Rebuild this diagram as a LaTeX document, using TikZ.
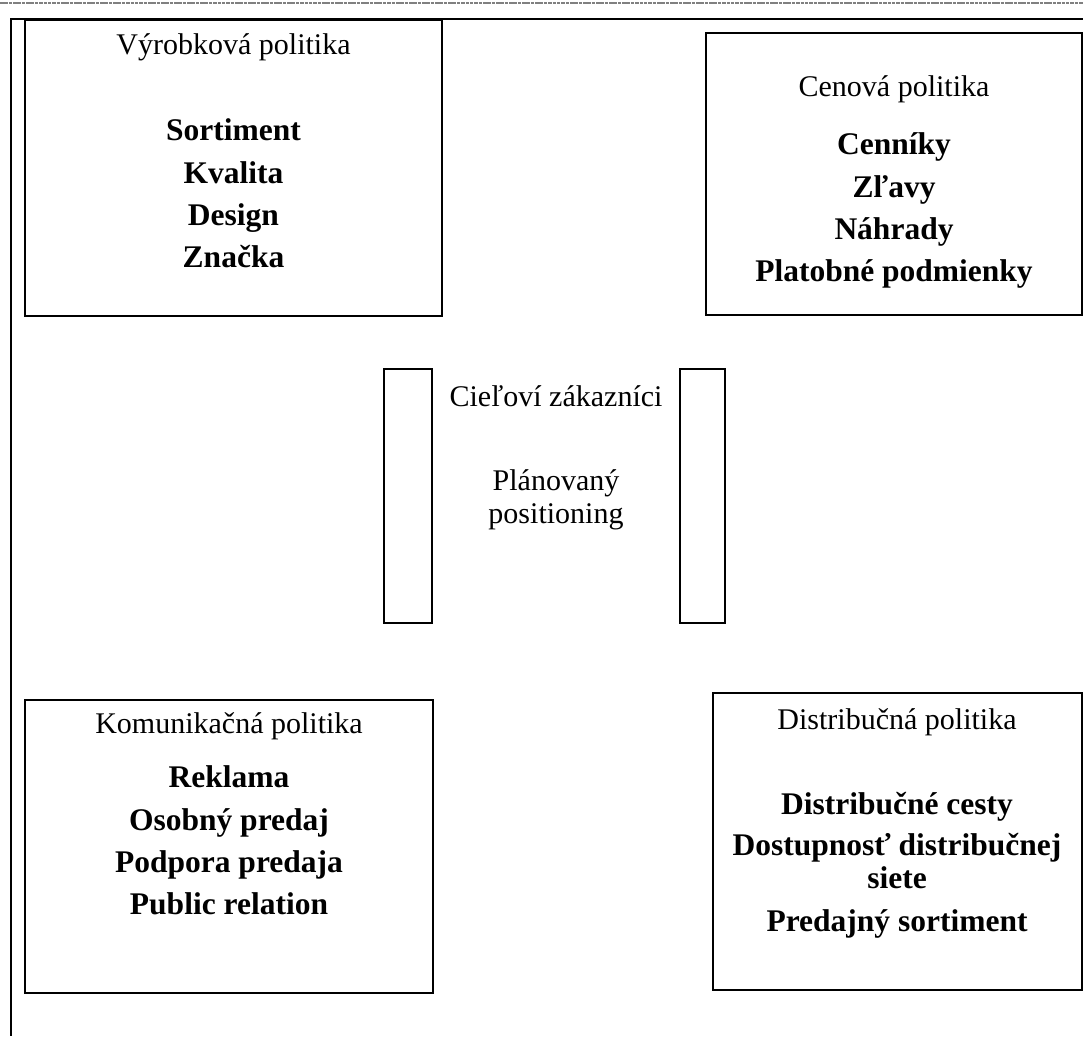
\documentclass[tikz,border=0pt]{standalone}
\usepackage{fontspec}
\setmainfont{Liberation Serif}
\usetikzlibrary{positioning}

\begin{document}
\begin{tikzpicture}[
    x=0.3333pt, y=-0.3333pt, % pixel grid, y pointing down
    frame/.style={line width=0.67pt}, % Style for the policy boxes
    rule/.style={line width=0.45pt}, % Style for the page rules
    title/.style={font=\fontsize{10}{11}\selectfont, text height=7pt, text depth=2pt, inner sep=0pt}, % Style for box headings
    item/.style={font=\fontsize{10.5}{11.3}\selectfont\bfseries, text height=7.5pt, text depth=2.2pt, inner sep=0pt, align=center}, % Style for bold entries
    node distance=3.97pt
]
    \useasboundingbox (0,0) rectangle (1083,1038);

    % --- Page rules ---
    \draw[gray, line width=0.5pt, dash pattern=on 1.2pt off 0.25pt] (0,3) -- (1083,3);
    \coordinate (corner) at (11,19);
    \draw[rule] (1083,19) -- (corner) -- (11,1036);

    % --- Top left: Výrobková politika ---
    \draw[frame] (25,20) rectangle (442,316);
    \node[title] (vyrT) at (233.5,47) {Výrobková politika};
    \node[item] (vyr1) at (233.5,133) {Sortiment};
    \node[item, below=of vyr1] (vyr2) {Kvalita};
    \node[item, below=of vyr2] (vyr3) {Design};
    \node[item, below=of vyr3] (vyr4) {Značka};

    % --- Top right: Cenová politika ---
    \draw[frame] (706,33) rectangle (1082,315);
    \node[title] (cenT) at (894,89) {Cenová politika};
    \node[item] (cen1) at (894,147) {Cenníky};
    \node[item, below=of cen1] (cen2) {Zľavy};
    \node[item, below=of cen2] (cen3) {Náhrady};
    \node[item, below=of cen3] (cen4) {Platobné podmienky};

    % --- Centre: target customers ---
    \draw[frame] (384,369) rectangle (432,623);
    \draw[frame] (680,369) rectangle (725,623);
    \node[title] (cielT) at (556,399) {Cieľoví zákazníci};
    \node[title, align=center, text height=, text depth=] (plan) at (556,500) {Plánovaný\\positioning};

    % --- Bottom left: Komunikačná politika ---
    \draw[frame] (25,700) rectangle (433,993);
    \node[title] (komT) at (229,726) {Komunikačná politika};
    \node[item] (kom1) at (229,780) {Reklama};
    \node[item, below=of kom1] (kom2) {Osobný predaj};
    \node[item, below=of kom2] (kom3) {Podpora predaja};
    \node[item, below=of kom3] (kom4) {Public relation};

    % --- Bottom right: Distribučná politika ---
    \draw[frame] (713,693) rectangle (1082,990);
    \node[title] (disT) at (897,722) {Distribučná politika};
    \node[item] (dis1) at (897,807) {Distribučné cesty};
    \node[item, text height=, text depth=] (dis2) at (897,861) {Dostupnosť distribučnej\\siete};
    \node[item] (dis3) at (897,924) {Predajný sortiment};
\end{tikzpicture}
\end{document}
